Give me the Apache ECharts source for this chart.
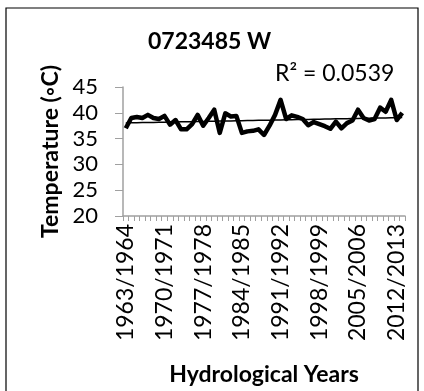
<!DOCTYPE html>
<html>
<head>
<meta charset="utf-8">
<script src="https://cdn.jsdelivr.net/npm/echarts@6/dist/echarts.min.js"></script>
<style>html,body{margin:0;padding:0;background:#fff}#c{width:424px;height:391px}</style>
</head>
<body>
<div id="c"></div>
<script>
var startYears = [];
for (var y = 1963; y <= 2013; y++) startYears.push(y);
var categories = startYears.map(function (y) { return y + '/' + (y + 1); });
var temperature = [
  37.0, 39.0, 39.2, 39.0, 39.6, 39.0, 38.8, 39.4, 37.7, 38.6,
  36.8, 36.8, 37.8, 39.6, 37.5, 39.0, 40.6, 36.1, 39.9, 39.3,
  39.4, 36.1, 36.4, 36.5, 36.8, 35.7, 37.5, 39.6, 42.5, 38.8,
  39.5, 39.2, 38.8, 37.6, 38.2, 37.8, 37.4, 36.9, 38.3, 37.0,
  38.0, 38.5, 40.6, 39.0, 38.5, 38.8, 41.0, 40.2, 42.5, 38.6,
  40.0
];
var yTicks = [20, 25, 30, 35, 40, 45];
var titleText = '0723485 W';
var r2Text = 'R\u00B2 = 0.0539';

// linear trend from the data
var n = temperature.length, sx = 0, sy = 0, sxy = 0, sxx = 0;
for (var i = 0; i < n; i++) { sx += i; sy += temperature[i]; sxy += i * temperature[i]; sxx += i * i; }
var slope = (n * sxy - sx * sy) / (n * sxx - sx * sx);
var icpt = (sy - slope * sx) / n;
var trend = temperature.map(function (v, i) { return +(icpt + slope * i).toFixed(3); });

var font = 'Lato, "Liberation Sans", sans-serif';
var chart = echarts.init(document.getElementById('c'));
chart.setOption({
  animation: false,
  textStyle: { fontFamily: font },
  grid: { left: 123, right: 19, top: 87, bottom: 175, containLabel: false },
  graphic: [
    { type: 'rect', shape: { x: 6, y: 8, width: 412, height: 390 }, style: { fill: 'none', stroke: '#000', lineWidth: 1.2 } },
    { type: 'text', left: 148, top: 30, style: { text: titleText, font: 'bold 23px ' + font, fill: '#000' } },
    { type: 'text', left: 275, top: 62, style: { text: r2Text, font: '23px ' + font, fill: '#000' } }
  ],
  xAxis: {
    type: 'category',
    data: categories,
    boundaryGap: true,
    name: 'Hydrological Years',
    nameLocation: 'middle',
    nameGap: 147,
    nameTextStyle: { fontWeight: 'bold', fontSize: 23, color: '#000', fontFamily: font },
    axisLine: { lineStyle: { color: '#a0a0a0', width: 1.5 } },
    axisTick: { show: true, interval: 0, length: 5, lineStyle: { color: '#a0a0a0' } },
    axisLabel: { interval: 6, rotate: 90, fontSize: 23, color: '#000', margin: 8, fontFamily: font },
    splitLine: { show: false }
  },
  yAxis: {
    type: 'value',
    min: yTicks[0],
    max: yTicks[yTicks.length - 1],
    interval: 5,
    name: 'Temperature (\u25E6C)',
    nameLocation: 'middle',
    nameGap: 60,
    nameRotate: 90,
    nameTextStyle: { fontWeight: 'bold', fontSize: 23, color: '#000', fontFamily: font },
    axisLine: { show: true, lineStyle: { color: '#a0a0a0', width: 1.5 } },
    axisTick: { show: true, length: 8, lineStyle: { color: '#a0a0a0' } },
    axisLabel: { fontSize: 22, color: '#000', margin: 25, fontFamily: font },
    splitLine: { show: false }
  },
  series: [
    {
      type: 'line',
      data: temperature,
      showSymbol: false,
      lineStyle: { color: '#000', width: 4.5, join: 'round' },
      z: 3
    },
    {
      type: 'line',
      data: trend,
      showSymbol: false,
      lineStyle: { color: '#000', width: 1.5 },
      z: 4
    }
  ]
});
</script>
</body>
</html>
